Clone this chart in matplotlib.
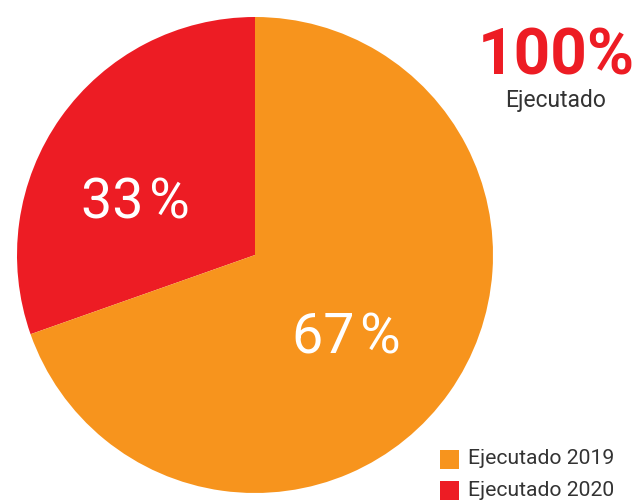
import matplotlib
matplotlib.use("Agg")
import matplotlib.pyplot as plt
from matplotlib.patches import Rectangle

categories = ["Ejecutado 2020", "Ejecutado 2019"]
values = [30.4, 69.6]
slice_labels = ["33\u200a%", "67\u200a%"]
colors = ["#ED1C24", "#F7941D"]
total_label = "100%"
total_caption = "Ejecutado"

W, H = 636, 501
fig = plt.figure(figsize=(W / 100, H / 100), dpi=100)
cx, cy, r = 255, 255, 238
ax = fig.add_axes([(cx - r) / W, (H - cy - r) / H, 2 * r / W, 2 * r / H])
wedges, _ = ax.pie(values, colors=colors, startangle=90, counterclock=True,
                   radius=1, wedgeprops=dict(linewidth=0))
ax.set_xlim(-1, 1)
ax.set_ylim(-1, 1)
ax.set_aspect("equal")
ax.axis("off")

font = ["Roboto", "DejaVu Sans"]
# slice labels
label_pos = [(135, 203), (346, 338)]
for (px, py), t in zip(label_pos, slice_labels):
    fig.text(px / W, 1 - py / H, t, ha="center", va="center", color="white",
             fontsize=40, family=font, fontweight="normal")

fig.text(556 / W, 1 - 57 / H, total_label, ha="center", va="center",
         color="#ED1C24", fontsize=46, family=font, fontweight="bold")
fig.text(556 / W, 1 - 101 / H, total_caption, ha="center", va="center",
         color="#333333", fontsize=16.5, family=font)

# legend
leg_y = [459, 490]
for y, c, t in zip(leg_y, [colors[1], colors[0]], [categories[1], categories[0]]):
    fig.patches.append(Rectangle(((440) / W, 1 - (y + 9.5) / H), 19 / W, 19 / H,
                                 transform=fig.transFigure, facecolor=c,
                                 edgecolor="none"))
    fig.text(468 / W, 1 - y / H, t, ha="left", va="center", color="#333333",
             fontsize=15.2, family=font)

fig.savefig("out.png", dpi=100)
